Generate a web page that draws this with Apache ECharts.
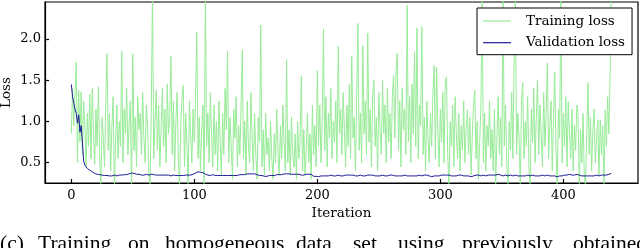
<!DOCTYPE html>
<html>
<head>
<meta charset="utf-8">
<script src="https://cdn.jsdelivr.net/npm/echarts@6/dist/echarts.min.js"></script>
<style>
html,body{margin:0;padding:0;background:#fff;}
#chart{width:640px;height:248px;}
</style>
</head>
<body>
<div id="chart"></div>
<script>
var xTicks = [0, 100, 200, 300, 400];
var yTicks = [0.5, 1.0, 1.5, 2.0];
var seriesNames = ['Training loss', 'Validation loss'];
var captionWords = ['(c)', 'Training', 'on', 'homogeneous', 'data', 'set', 'using', 'previously', 'obtained'];

var trainingLoss = [
0.85,1.40,0.95,1.30,1.72,0.50,1.38,0.75,1.36,0.60,1.25,0.95,0.45,1.10,0.70,1.33,0.55,1.40,0.90,0.48,
1.15,0.70,1.42,0.60,0.20,1.05,0.80,0.45,1.25,1.82,0.65,1.10,0.40,0.95,1.30,0.18,0.75,1.20,0.55,1.00,
0.70,1.85,0.50,1.15,0.85,1.40,0.60,0.95,1.25,0.15,1.82,0.65,1.05,0.45,1.30,0.90,1.10,0.60,1.35,0.80,
0.50,1.20,0.95,0.40,0.20,1.10,2.60,0.55,1.00,1.38,0.65,1.20,0.45,0.90,1.40,0.70,1.15,0.50,1.45,0.85,
1.05,1.79,0.60,1.25,0.40,1.00,1.35,0.55,0.20,0.95,1.30,1.44,0.45,1.10,0.70,0.22,1.25,0.85,0.50,1.15,
0.75,1.30,2.08,0.55,1.05,0.40,0.90,1.20,0.20,2.60,0.70,1.10,0.50,1.35,0.85,0.45,1.20,0.60,1.00,0.40,
1.25,0.75,0.35,1.10,0.60,1.40,0.90,1.85,0.50,1.05,0.70,0.30,1.15,0.80,1.30,0.45,0.95,0.60,1.20,1.87,
0.55,1.00,0.35,1.25,0.70,0.50,1.35,0.80,0.40,1.10,0.60,0.30,1.05,0.75,2.17,0.45,0.90,0.35,1.10,0.60,
0.80,0.40,1.00,0.55,0.30,0.85,0.50,1.15,0.65,0.35,0.95,0.55,1.20,0.75,0.40,1.75,0.50,0.90,0.35,1.05,
0.60,0.45,0.85,0.30,1.00,0.55,0.75,1.55,0.40,0.90,0.35,0.65,1.10,0.50,0.85,0.30,1.20,0.60,0.95,0.45,
1.62,0.70,1.20,0.50,1.00,2.12,0.65,1.30,0.45,1.10,0.80,1.40,0.55,1.00,0.75,1.25,0.50,1.91,0.85,1.15,
0.60,1.35,0.90,0.45,1.20,0.70,1.45,0.55,1.79,0.80,1.05,0.40,1.30,2.19,0.65,1.10,0.50,1.92,0.85,1.25,
0.60,2.07,0.75,1.15,0.45,1.30,1.50,0.70,1.05,0.40,1.35,0.90,0.60,1.50,0.85,1.20,0.50,1.40,0.75,1.10,
0.55,1.30,1.56,0.80,1.62,1.83,0.65,1.25,0.45,1.40,0.90,1.15,0.60,2.41,0.75,1.30,0.50,1.45,0.85,1.85,
0.70,2.13,0.55,1.20,0.95,2.15,0.60,1.05,0.40,1.25,0.80,0.50,1.10,0.70,1.35,1.68,0.55,1.66,0.90,0.45,
1.15,0.75,1.35,0.50,1.50,1.54,0.60,0.20,1.00,0.70,1.20,0.45,1.30,0.85,0.55,1.10,0.40,0.95,0.65,1.25,
0.50,0.90,1.14,0.60,1.05,0.35,0.85,1.20,1.38,0.55,1.00,0.30,0.75,1.20,2.60,0.50,1.10,0.40,0.95,0.70,
1.25,0.55,0.90,0.40,1.15,0.20,0.80,1.30,0.60,1.05,0.45,2.60,0.70,1.20,0.50,0.20,1.00,0.65,1.35,0.55,
1.79,2.60,0.60,1.10,0.80,0.20,1.25,1.47,0.55,1.00,0.70,1.30,0.45,0.20,1.15,0.75,1.40,0.50,1.05,1.50,
0.60,1.20,0.85,0.45,1.35,0.70,1.10,1.71,0.55,0.95,1.25,0.40,1.05,1.60,0.65,0.20,1.15,0.80,2.60,0.50,
1.10,0.70,1.30,0.45,1.24,0.85,0.55,1.15,0.40,0.95,0.65,1.20,1.06,0.20,0.90,0.50,1.10,0.35,0.20,0.85,
1.47,0.60,1.05,0.40,0.90,1.15,0.50,0.80,1.02,0.35,1.02,0.60,0.95,0.20,1.14,0.70,1.30,0.85,1.55,2.60
];

var validationLoss = [
1.45,1.30,1.22,1.15,1.10,0.98,1.08,0.87,0.95,0.75,0.52,0.47,0.45,0.43,0.42,0.41,0.40,0.39,0.38,0.37,
0.37,0.36,0.36,0.355,0.35,0.35,0.345,0.345,0.34,0.345,0.34,0.34,0.345,0.34,0.345,0.35,0.345,0.34,0.345,0.35,
0.345,0.35,0.35,0.355,0.35,0.355,0.36,0.365,0.37,0.375,0.375,0.37,0.365,0.36,0.355,0.36,0.355,0.35,0.355,0.35,
0.355,0.36,0.355,0.35,0.355,0.36,0.36,0.355,0.35,0.35,0.355,0.35,0.345,0.35,0.355,0.35,0.345,0.35,0.345,0.35,
0.345,0.34,0.345,0.35,0.34,0.345,0.34,0.345,0.35,0.345,0.34,0.345,0.345,0.35,0.345,0.35,0.355,0.35,0.355,0.36,
0.365,0.375,0.385,0.39,0.39,0.385,0.385,0.38,0.37,0.36,0.355,0.35,0.35,0.345,0.35,0.355,0.35,0.345,0.35,0.345,
0.35,0.345,0.34,0.345,0.35,0.345,0.34,0.345,0.34,0.345,0.35,0.345,0.35,0.345,0.34,0.345,0.35,0.355,0.35,0.355,
0.36,0.355,0.36,0.365,0.36,0.365,0.37,0.365,0.37,0.365,0.36,0.355,0.35,0.345,0.34,0.345,0.34,0.335,0.34,0.335,
0.34,0.345,0.34,0.345,0.35,0.345,0.35,0.355,0.35,0.355,0.36,0.355,0.36,0.365,0.36,0.365,0.37,0.365,0.37,0.36,
0.365,0.36,0.355,0.36,0.355,0.36,0.355,0.35,0.355,0.35,0.355,0.36,0.355,0.36,0.365,0.36,0.34,0.335,0.33,0.335,
0.335,0.33,0.335,0.34,0.335,0.34,0.335,0.34,0.345,0.34,0.345,0.35,0.345,0.34,0.345,0.34,0.345,0.35,0.345,0.34,
0.345,0.34,0.345,0.35,0.345,0.35,0.355,0.35,0.345,0.35,0.345,0.34,0.345,0.34,0.345,0.35,0.345,0.34,0.335,0.34,
0.345,0.35,0.345,0.35,0.355,0.35,0.345,0.34,0.335,0.34,0.345,0.34,0.345,0.35,0.345,0.34,0.345,0.34,0.345,0.35,
0.345,0.35,0.345,0.34,0.345,0.34,0.335,0.34,0.345,0.34,0.345,0.35,0.345,0.34,0.345,0.34,0.345,0.34,0.335,0.34,
0.345,0.34,0.345,0.35,0.345,0.34,0.345,0.35,0.355,0.35,0.345,0.34,0.335,0.33,0.335,0.34,0.335,0.34,0.345,0.34,
0.345,0.35,0.345,0.35,0.355,0.35,0.355,0.35,0.345,0.34,0.345,0.34,0.335,0.34,0.345,0.35,0.345,0.35,0.345,0.34,
0.335,0.34,0.345,0.34,0.335,0.33,0.335,0.34,0.345,0.35,0.355,0.35,0.345,0.34,0.345,0.35,0.345,0.34,0.345,0.35,
0.345,0.35,0.355,0.35,0.345,0.35,0.355,0.36,0.355,0.35,0.345,0.34,0.345,0.35,0.345,0.34,0.345,0.35,0.345,0.34,
0.345,0.35,0.345,0.34,0.345,0.34,0.335,0.34,0.345,0.34,0.345,0.35,0.345,0.34,0.345,0.35,0.345,0.34,0.345,0.34,
0.335,0.34,0.345,0.35,0.345,0.34,0.345,0.35,0.345,0.34,0.335,0.34,0.335,0.34,0.335,0.33,0.335,0.34,0.335,0.34,
0.345,0.35,0.345,0.35,0.355,0.36,0.355,0.35,0.345,0.35,0.355,0.36,0.355,0.35,0.345,0.34,0.335,0.34,0.335,0.34,
0.335,0.34,0.345,0.34,0.345,0.34,0.345,0.35,0.345,0.34,0.345,0.35,0.345,0.35,0.355,0.35,0.355,0.36,0.365,0.37
];

function toPairs(arr) {
  var out = [];
  for (var i = 0; i < arr.length; i++) out.push([i, arr[i]]);
  return out;
}

var captionX = [0, 38, 128, 165, 296, 353, 398, 462, 573];
var captionGraphics = captionWords.map(function (w, k) {
  return {
    type: 'text', left: captionX[k], top: 233,
    style: { text: w, fill: '#000', font: '21.5px "Liberation Serif"' }
  };
});

var serif = 'DejaVu Serif';
var chart = echarts.init(document.getElementById('chart'), null, { renderer: 'canvas' });
chart.setOption({
  animation: false,
  backgroundColor: '#fff',
  grid: { left: 45, right: 2, top: 2, bottom: 65, containLabel: false, outerBoundsMode: 'none',
    show: true, borderColor: '#000', borderWidth: 1.2, backgroundColor: 'transparent' },
  legend: {
    data: seriesNames,
    orient: 'vertical',
    left: 477, top: 8,
    padding: [6, 7, 5, 6],
    icon: 'rect',
    itemWidth: 28, itemHeight: 1.2, itemGap: 7.7,
    backgroundColor: '#fff',
    borderColor: '#000', borderWidth: 1,
    borderRadius: 0,
    textStyle: { fontFamily: serif, fontSize: 13.5, lineHeight: 14, color: '#000', padding: [0, 0, 0, 10] }
  },
  xAxis: {
    type: 'value', min: -21.4, max: 460.7,
    name: 'Iteration', nameLocation: 'middle', nameGap: 22,
    nameTextStyle: { fontFamily: serif, fontSize: 13.5, color: '#000' },
    axisLine: { show: true, onZero: false, lineStyle: { color: '#000', width: 1.2 } },
    axisTick: { show: true, inside: true, length: 4, customValues: xTicks, lineStyle: { color: '#000', width: 1.2 } },
    axisLabel: { customValues: xTicks, fontFamily: serif, fontSize: 13, color: '#000', margin: 6 },
    splitLine: { show: false }
  },
  yAxis: {
    type: 'value', min: 0.254, max: 2.449,
    name: 'Loss', nameLocation: 'middle', nameGap: 32, nameRotate: 90, nameMoveOverlap: false,
    nameTextStyle: { fontFamily: serif, fontSize: 13.5, color: '#000' },
    axisLine: { show: true, onZero: false, lineStyle: { color: '#000', width: 1.2 } },
    axisTick: { show: true, inside: true, length: 4, customValues: yTicks, lineStyle: { color: '#000', width: 1.2 } },
    axisLabel: { customValues: yTicks, fontFamily: serif, fontSize: 13, color: '#000', margin: 4,
      formatter: function (v) { return v.toFixed(1); } },
    splitLine: { show: false }
  },
  series: [
    { name: seriesNames[0], type: 'line', data: toPairs(trainingLoss), symbol: 'none', clip: true,
      lineStyle: { color: '#98eb98', width: 1 }, itemStyle: { color: '#98eb98' }, z: 2 },
    { name: seriesNames[1], type: 'line', data: toPairs(validationLoss), symbol: 'none', clip: true,
      lineStyle: { color: '#1c1c96', width: 1 }, itemStyle: { color: '#1c1c96' }, z: 3 }
  ],
  graphic: captionGraphics
});
</script>
</body>
</html>
